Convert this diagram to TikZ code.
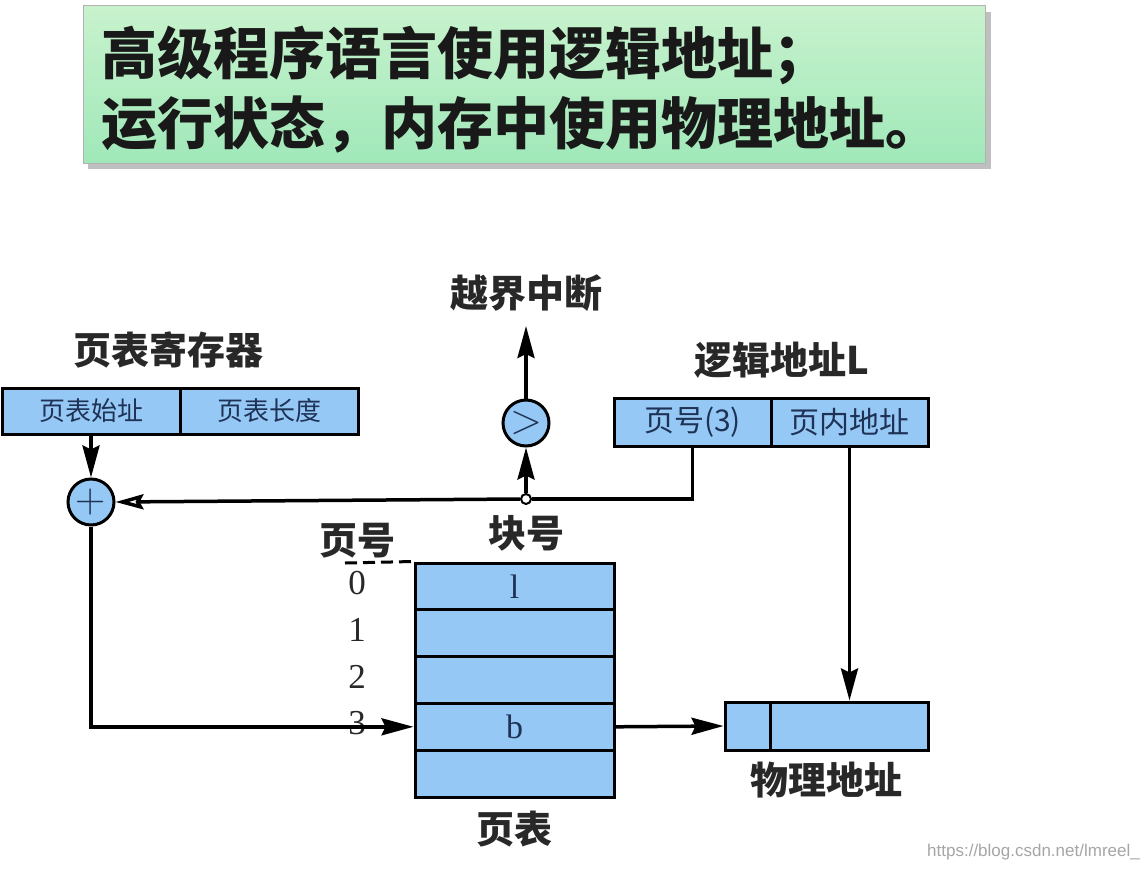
\documentclass[tikz,border=0pt]{standalone}
\usepackage{fontspec}
\setmainfont{Liberation Serif}
\newfontfamily\cjk{Noto Sans CJK SC}
\newfontfamily\wmfont{Liberation Sans}
\newfontfamily\opfont{Latin Modern Roman}
\usetikzlibrary{arrows.meta,shapes.geometric}
\definecolor{boxblue}{RGB}{150,200,245}
\definecolor{txtblue}{RGB}{30,50,85}
\definecolor{lbl}{RGB}{40,40,40}
\definecolor{gtop}{RGB}{200,242,205}
\definecolor{gbot}{RGB}{160,232,185}
\tikzset{
  cell/.style={draw=black,line width=3pt,fill=boxblue,inner sep=0pt,text=txtblue},
  regtext/.style={cell,minimum height=46pt,font=\cjk\fontsize{26}{30}\selectfont},
  latext/.style={cell,minimum height=48pt,font=\cjk\fontsize{30}{34}\selectfont},
  row/.style={cell,minimum width=199pt,minimum height=46.8pt,font=\fontsize{34}{38}\selectfont},
  label/.style={inner sep=0pt,text=lbl,font=\cjk\bfseries\fontsize{38}{42}\selectfont},
  num/.style={inner sep=0pt,text=lbl,font=\fontsize{35}{38}\selectfont},
  op/.style={ellipse,draw=black,line width=3pt,fill=boxblue,minimum width=46pt,minimum height=46pt,inner sep=0pt,text=txtblue,font=\opfont\fontsize{42}{42}\selectfont},
  conn/.style={line width=3.5pt,-{Stealth[length=32pt,width=17pt,inset=4pt]}},
  plain/.style={line width=3.5pt},
}
\begin{document}
\begin{tikzpicture}[x=1pt,y=-1pt]
\useasboundingbox (0,0) rectangle (1148,870);
\fill[white] (0,0) rectangle (1148,870);
% title box
\fill[black!25] (88,12) rectangle (991,169);
\shade[top color=gtop,bottom color=gbot,draw=black!30,line width=1pt] (83,5) rectangle (985,163);
\node[anchor=west,inner sep=0pt,text=black!90,font=\cjk\bfseries\fontsize{56}{60}\selectfont] (t1) at (101,55) {高级程序语言使用逻辑地址；};
\node[anchor=west,inner sep=0pt,text=black!90,font=\cjk\bfseries\fontsize{56}{60}\selectfont] (t2) at (101,125) {运行状态，内存中使用物理地址。};

% page table register
\node[label] (regl) at (168,350) {页表寄存器};
\node[regtext,minimum width=178pt] (reg1) at (91,411) {页表始址};
\node[regtext,minimum width=178pt] (reg2) at (269,411) {页表长度};

% plus
\node[op] (plus) at (91,502) {+};

% compare
\node[op] (cmp) at (526,423) {>};
\node[label] (intl) at (526,293) {越界中断};
\coordinate (intend) at (526,326);
\node[circle,draw=black,line width=2pt,fill=white,minimum size=10pt,inner sep=0pt] (jn) at (526,499) {};
\node[label] (blk) at (526,533) {块号};

% logical address
\node[label] (lal) at (782,360) {逻辑地址L};
\node[latext,minimum width=157pt] (la1) at (692.5,422) {页号(3)};
\node[latext,minimum width=157pt] (la2) at (849.5,422) {页内地址};

% page table
\node[label] (pgl) at (357,541) {页号};
\node[row] (r0) at (514.5,586.4) {l};
\node[row] (r1) at (514.5,633.2) {};
\node[row] (r2) at (514.5,680.0) {};
\node[row] (r3) at (514.5,726.8) {b};
\node[row] (r4) at (514.5,773.6) {};
\node[label] (ptl) at (514,829) {页表};
\node[num] (n0) at (357,583) {0};
\node[num] (n1) at (357,630) {1};
\node[num] (n2) at (357,677) {2};
\node[num] (n3) at (357,723) {3};
\coordinate (dstart) at (345,563);

% physical address
\node[latext,minimum width=45pt] (pa1) at (747.5,726) {};
\node[latext,minimum width=158pt] (pa2) at (849,726) {};
\node[label] (pal) at (826,780) {物理地址};

% connectors
\draw[line width=3pt,dash pattern=on 12pt off 6pt] (dstart) -- (r0.north west);
\draw[conn] (reg1.south) -- (plus.north);
\draw[plain] (la1.south) |- (jn.east);
\draw[line width=3.5pt,-{Stealth[open,length=28pt,width=15pt,inset=4pt]}] (jn.west) -- (plus.east);
\draw[conn] (jn.north) -- (cmp.south);
\draw[conn] (cmp.north) -- (intend);
\draw[conn] (plus.south) |- (r3.west);
\draw[conn] (r3.east) -- (pa1.west);
\draw[conn] (la2.south) -- (la2.south |- pa2.north);

% watermark
\node[anchor=east,inner sep=0pt,text=black!35,font=\wmfont\fontsize{17}{20}\selectfont] (wm) at (1140,852) {https://blog.csdn.net/lmreel\_};
\end{tikzpicture}
\end{document}
